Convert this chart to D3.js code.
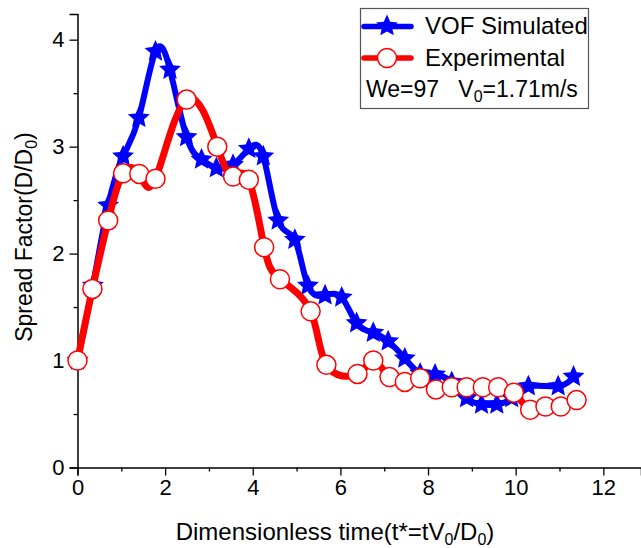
<!DOCTYPE html>
<html><head><meta charset="utf-8">
<script src="https://cdn.jsdelivr.net/npm/d3@7/dist/d3.min.js"></script>
<style>
body{margin:0;background:#fff;}
svg{display:block;font-family:"Liberation Sans",Arial,sans-serif;}
</style></head>
<body><svg id="c" width="641" height="548"></svg>
<script>
const vofX = [0,0.35,0.70,1.04,1.40,1.78,2.11,2.49,2.83,3.17,3.55,3.91,4.24,4.58,4.96,5.26,5.65,6.03,6.37,6.75,7.09,7.47,7.82,8.16,8.54,8.88,9.22,9.57,9.91,10.29,10.97,11.32];
const vofY = [1.0,1.70,2.45,2.91,3.27,3.89,3.72,3.09,2.88,2.80,2.83,2.98,2.91,2.31,2.13,1.70,1.61,1.59,1.35,1.26,1.18,1.02,0.88,0.87,0.80,0.65,0.59,0.59,0.65,0.76,0.76,0.85];
const expX = [0,0.34,0.70,1.04,1.41,1.78,2.49,3.19,3.55,3.91,4.26,4.62,5.32,5.68,6.39,6.75,7.12,7.47,7.82,8.18,8.54,8.88,9.25,9.60,9.96,10.33,10.68,11.03,11.39];
const expY = [1.0,1.67,2.31,2.75,2.745,2.70,3.44,3.0,2.72,2.69,2.06,1.76,1.46,0.96,0.875,1.0,0.845,0.80,0.835,0.73,0.75,0.75,0.75,0.75,0.70,0.54,0.57,0.57,0.63];
const xMajor = [0,2,4,6,8,10,12];
const xMinor = [1,3,5,7,9,11];
const yMajor = [0,1,2,3,4];
const yMinor = [0.5,1.5,2.5,3.5];

const svg = d3.select("#c");
const x = d3.scaleLinear().domain([0,12.86]).range([77.5,641]);
const y = d3.scaleLinear().domain([0,4.24]).range([467.5,14]);

function starPath(R, ratio){
  const r = R*ratio; let p = [];
  for(let i=0;i<10;i++){
    const a = -Math.PI/2 + i*Math.PI/5;
    const rr = i%2===0 ? R : r;
    p.push([rr*Math.cos(a), rr*Math.sin(a)]);
  }
  return "M"+p.map(d=>d[0].toFixed(2)+","+d[1].toFixed(2)).join("L")+"Z";
}
const star = starPath(11.5, 0.47);

// axes
const gx = svg.append("g").attr("transform",`translate(0,${y(0)})`);
gx.call(d3.axisBottom(x).tickValues(xMajor).tickSizeOuter(0).tickSize(8).tickPadding(4).tickFormat(d3.format("d")));
gx.append("g").call(d3.axisBottom(x).tickValues(xMinor).tickSize(4).tickFormat("")).select(".domain").remove();
const gy = svg.append("g").attr("transform",`translate(${x(0)},0)`);
gy.call(d3.axisLeft(y).tickValues(yMajor).tickSizeOuter(0).tickSize(8).tickPadding(5).tickFormat(d3.format("d")));
gy.append("g").call(d3.axisLeft(y).tickValues(yMinor).tickSize(4).tickFormat("")).select(".domain").remove();
svg.selectAll(".domain").attr("stroke","#000").attr("stroke-width",1.5);
svg.selectAll(".tick line").attr("stroke","#000").attr("stroke-width",1.3);
svg.selectAll(".tick text").attr("font-size",22).attr("fill","#000").attr("font-family","Liberation Sans, Arial, sans-serif");

// axis titles
const xt = svg.append("text").attr("x",335).attr("y",540).attr("text-anchor","middle").attr("font-size",24);
xt.append("tspan").text("Dimensionless time(t*=tV");
xt.append("tspan").attr("font-size",16).attr("dy",5).text("0");
xt.append("tspan").attr("dy",-5).text("/D");
xt.append("tspan").attr("font-size",16).attr("dy",5).text("0");
xt.append("tspan").attr("dy",-5).text(")");
const yt = svg.append("text").attr("transform","translate(32,237) rotate(-90)").attr("text-anchor","middle").attr("font-size",23);
yt.append("tspan").text("Spread Factor(D/D");
yt.append("tspan").attr("font-size",16).attr("dy",5).text("0");
yt.append("tspan").attr("dy",-5).text(")");

// data
const vof = vofX.map((d,i)=>[d,vofY[i]]);
const exp = expX.map((d,i)=>[d,expY[i]]);
const line = d3.line().x(d=>x(d[0])).y(d=>y(d[1])).curve(d3.curveNatural);

svg.append("path").attr("d",line(vof)).attr("fill","none").attr("stroke","#0000ff").attr("stroke-width",6).attr("stroke-linejoin","round").attr("stroke-linecap","round");
svg.append("g").selectAll("path").data(vof).join("path")
  .attr("d",star).attr("transform",d=>`translate(${x(d[0])},${y(d[1])})`).attr("fill","#0000ff");

svg.append("path").attr("d",line(exp)).attr("fill","none").attr("stroke","#ff0000").attr("stroke-width",7).attr("stroke-linejoin","round").attr("stroke-linecap","round");
svg.append("g").selectAll("circle").data(exp).join("circle")
  .attr("cx",d=>x(d[0])).attr("cy",d=>y(d[1])).attr("r",9.5)
  .attr("fill","#fff").attr("stroke","#ff0000").attr("stroke-width",1.5);

// legend
const lg = svg.append("g");
lg.append("rect").attr("x",360.5).attr("y",8.5).attr("width",228).attr("height",100).attr("fill","#fff").attr("stroke","#555").attr("stroke-width",1.2);
lg.append("line").attr("x1",364).attr("x2",411).attr("y1",26.5).attr("y2",26.5).attr("stroke","#0000ff").attr("stroke-width",5.5).attr("stroke-linecap","round");
lg.append("path").attr("d",star).attr("transform","translate(387,26)").attr("fill","#0000ff");
lg.append("line").attr("x1",364).attr("x2",411).attr("y1",58).attr("y2",58).attr("stroke","#ff0000").attr("stroke-width",5.5).attr("stroke-linecap","round");
lg.append("circle").attr("cx",387).attr("cy",58).attr("r",9.5).attr("fill","#fff").attr("stroke","#ff0000").attr("stroke-width",1.5);
lg.append("text").attr("x",425).attr("y",34).attr("font-size",24).text("VOF Simulated");
lg.append("text").attr("x",425).attr("y",66).attr("font-size",24).text("Experimental");
const wt = lg.append("text").attr("x",366).attr("y",97).attr("font-size",23);
wt.append("tspan").text("We=97   V");
wt.append("tspan").attr("font-size",16).attr("dy",5).text("0");
wt.append("tspan").attr("dy",-5).text("=1.71m/s");
wt.attr("xml:space","preserve").style("white-space","pre");
</script></body></html>
